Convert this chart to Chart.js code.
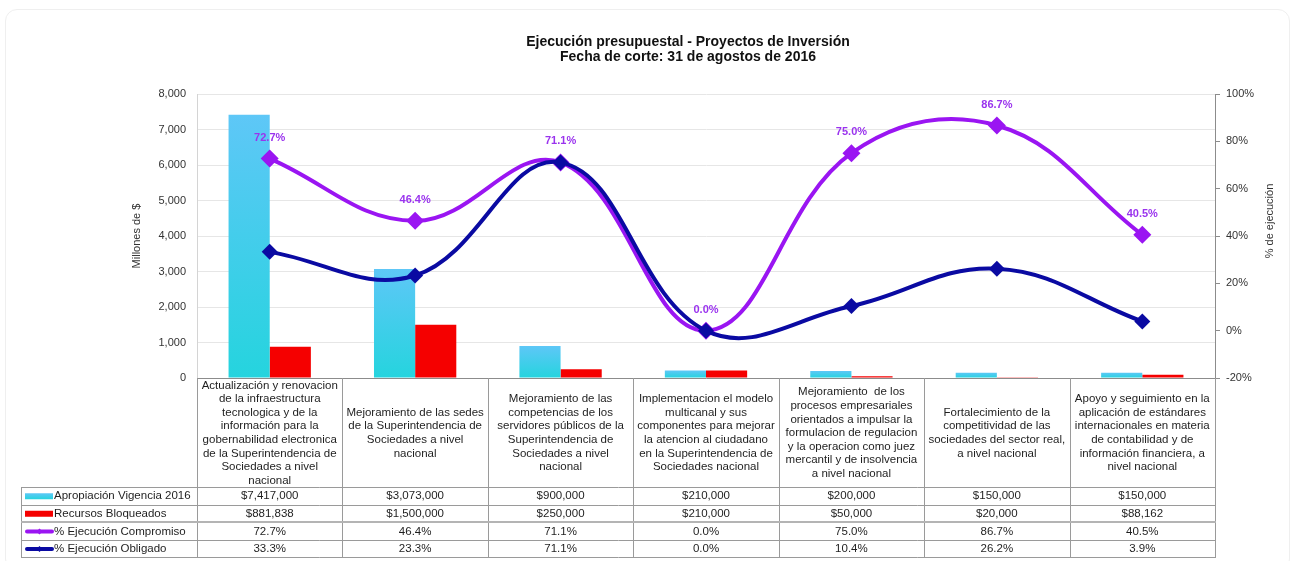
<!DOCTYPE html>
<html><head><meta charset="utf-8">
<script src="https://cdn.jsdelivr.net/npm/chart.js@4/dist/chart.umd.min.js"></script>
<style>
html,body{margin:0;padding:0;background:#fff;}
#wrap{position:relative;width:1295px;height:561px;overflow:hidden;}
#frame{position:absolute;left:5px;top:9px;width:1283px;height:560px;border:1px solid #efefef;border-radius:12px;}
canvas{position:absolute;left:0;top:0;}
</style></head><body>
<div id="wrap"><div id="frame"></div><canvas id="c" width="1295" height="561"></canvas></div>
<script>
const chartTitle = ['Ejecución presupuestal - Proyectos de Inversión', 'Fecha de corte: 31 de agostos de 2016'];
const leftAxisTitle = 'Millones de $';
const rightAxisTitle = '% de ejecución';
const categories = [
  ['Actualización y renovacion', 'de la infraestructura', 'tecnologica y de la', 'información para la', 'gobernabilidad electronica', 'de la Superintendencia de', 'Sociedades a nivel', 'nacional'],
  ['Mejoramiento de las sedes', 'de la Superintendencia de', 'Sociedades a nivel', 'nacional'],
  ['Mejoramiento de las', 'competencias de los', 'servidores públicos de la', 'Superintendencia de', 'Sociedades a nivel', 'nacional'],
  ['Implementacion el modelo', 'multicanal y sus', 'componentes para mejorar', 'la atencion al ciudadano', 'en la Superintendencia de', 'Sociedades nacional'],
  ['Mejoramiento  de los', 'procesos empresariales', 'orientados a impulsar la', 'formulacion de regulacion', 'y la operacion como juez', 'mercantil y de insolvencia', 'a nivel nacional'],
  ['Fortalecimiento de la', 'competitividad de las', 'sociedades del sector real,', 'a nivel nacional'],
  ['Apoyo y seguimiento en la', 'aplicación de estándares', 'internacionales en materia', 'de contabilidad y de', 'información financiera, a', 'nivel nacional']
];
const seriesNames = ['Apropiación Vigencia 2016', 'Recursos Bloqueados', '% Ejecución Compromiso', '% Ejecución Obligado'];
const apropiacion = [7417000, 3073000, 900000, 210000, 200000, 150000, 150000];
const bloqueados = [881838, 1500000, 250000, 210000, 50000, 20000, 88162];
const compromiso = [72.7, 46.4, 71.1, 0.0, 75.0, 86.7, 40.5];
const obligado = [33.3, 23.3, 71.1, 0.0, 10.4, 26.2, 3.9];
const leftTickValues = [0, 1000000, 2000000, 3000000, 4000000, 5000000, 6000000, 7000000, 8000000];
const rightTickValues = [-20, 0, 20, 40, 60, 80, 100];

const COL_CYAN_TOP = '#5ec7f7', COL_CYAN_BOT = '#25d4de';
const COL_RED = '#f50000';
const COL_PURPLE = '#9a15f2';
const COL_NAVY = '#0a0aa2';
const FONT = '"Liberation Sans", Arial, sans-serif';

function cyanGradient(ctx) {
  const chart = ctx.chart;
  if (!chart.chartArea || ctx.type !== 'data') return COL_CYAN_TOP;
  const ys = chart.scales.y;
  const top = ys.getPixelForValue(ctx.raw);
  const base = ys.getPixelForValue(0);
  if (!isFinite(top) || Math.abs(base - top) < 1) return COL_CYAN_BOT;
  const g = chart.ctx.createLinearGradient(0, top, 0, base);
  g.addColorStop(0, COL_CYAN_TOP);
  g.addColorStop(1, COL_CYAN_BOT);
  return g;
}

const fmtMoney = v => '$' + v.toLocaleString('en-US');
const fmtPct = v => v.toFixed(1) + '%';

const tablePlugin = {
  id: 'tablePlugin',
  afterDatasetsDraw(chart) {
    const ctx = chart.ctx;
    const meta = chart.getDatasetMeta(2);
    ctx.save();
    ctx.font = 'bold 11px ' + FONT;
    ctx.fillStyle = '#9a33ee';
    ctx.textAlign = 'center';
    ctx.textBaseline = 'middle';
    meta.data.forEach((pt, i) => {
      ctx.fillText(fmtPct(compromiso[i]), pt.x, pt.y - 21);
    });
    ctx.restore();
  },
  afterDraw(chart) {
    const ctx = chart.ctx;
    const area = chart.chartArea;
    const xs = chart.scales.x;
    const n = categories.length;
    const colW = (area.right - area.left) / n;
    const tableLeft = 21;
    const headerTop = area.bottom;
    const rows = [487, 504.5, 522, 540, 557];
    ctx.save();
    // title
    ctx.fillStyle = '#111';
    ctx.font = 'bold 14px ' + FONT;
    ctx.textAlign = 'center';
    ctx.textBaseline = 'middle';
    ctx.fillText(chartTitle[0], 688, 42);
    ctx.fillText(chartTitle[1], 688, 57);
    // right axis title
    ctx.save();
    ctx.translate(1270, 221);
    ctx.rotate(-Math.PI / 2);
    ctx.font = '11px ' + FONT;
    ctx.fillStyle = '#333';
    ctx.fillText(rightAxisTitle, 0, 0);
    ctx.restore();

    // table grid
    ctx.strokeStyle = '#9a9a9a';
    ctx.lineWidth = 1;
    ctx.beginPath();
    for (let i = 0; i <= n; i++) {
      const x = Math.round(area.left + i * colW) + 0.5;
      ctx.moveTo(x, headerTop);
      ctx.lineTo(x, rows[rows.length - 1]);
    }
    ctx.moveTo(tableLeft + 0.5, rows[0]);
    ctx.lineTo(tableLeft + 0.5, rows[rows.length - 1]);
    rows.forEach((y, k) => {
      if (k === 2) return;
      const yy = Math.round(y) + 0.5;
      ctx.moveTo(tableLeft, yy);
      ctx.lineTo(area.right + 1, yy);
    });
    ctx.stroke();
    ctx.strokeStyle = '#b4b4b4';
    ctx.lineWidth = 2;
    ctx.beginPath();
    ctx.moveTo(tableLeft, Math.round(rows[2]));
    ctx.lineTo(area.right + 1, Math.round(rows[2]));
    ctx.stroke();

    // header text
    ctx.fillStyle = '#1e1e1e';
    ctx.font = '11.5px ' + FONT;
    ctx.textAlign = 'center';
    ctx.textBaseline = 'middle';
    const hc = (headerTop + rows[0]) / 2 + 0.5;
    const lh = 13.6;
    categories.forEach((lines, i) => {
      const cx = xs.getPixelForValue(i);
      lines.forEach((t, j) => {
        ctx.fillText(t, cx, hc + (j - (lines.length - 1) / 2) * lh);
      });
    });
    // value rows
    const rowData = [apropiacion.map(fmtMoney), bloqueados.map(fmtMoney), compromiso.map(fmtPct), obligado.map(fmtPct)];
    rowData.forEach((vals, r) => {
      const cy = (rows[r] + rows[r + 1]) / 2 + 0.5;
      vals.forEach((v, i) => ctx.fillText(v, xs.getPixelForValue(i), cy));
    });
    // legend keys + names
    ctx.textAlign = 'left';
    seriesNames.forEach((name, r) => {
      const cy = (rows[r] + rows[r + 1]) / 2 + 0.5;
      if (r === 0) {
        const g = ctx.createLinearGradient(0, cy - 3, 0, cy + 3);
        g.addColorStop(0, COL_CYAN_TOP); g.addColorStop(1, COL_CYAN_BOT);
        ctx.fillStyle = g;
        ctx.fillRect(25, cy - 3, 28, 6);
      } else if (r === 1) {
        ctx.fillStyle = COL_RED;
        ctx.fillRect(25, cy - 3, 28, 6);
      } else {
        const c = r === 2 ? COL_PURPLE : COL_NAVY;
        ctx.strokeStyle = c;
        ctx.lineWidth = 4;
        ctx.lineCap = 'round';
        ctx.beginPath();
        ctx.moveTo(27, cy); ctx.lineTo(52, cy);
        ctx.stroke();
        ctx.fillStyle = c;
        ctx.beginPath();
        ctx.moveTo(39.5, cy - 3); ctx.lineTo(42.5, cy); ctx.lineTo(39.5, cy + 3); ctx.lineTo(36.5, cy);
        ctx.closePath(); ctx.fill();
      }
      ctx.fillStyle = '#1e1e1e';
      ctx.fillText(name, 54, cy);
    });
    ctx.restore();
  }
};

new Chart(document.getElementById('c'), {
  type: 'bar',
  data: {
    labels: categories,
    datasets: [
      { type: 'bar', label: seriesNames[0], data: apropiacion, yAxisID: 'y', backgroundColor: cyanGradient, borderWidth: 0, order: 3, categoryPercentage: 0.566, barPercentage: 1 },
      { type: 'bar', label: seriesNames[1], data: bloqueados, yAxisID: 'y', backgroundColor: COL_RED, borderWidth: 0, order: 3, categoryPercentage: 0.566, barPercentage: 1 },
      { type: 'line', label: seriesNames[2], data: compromiso, yAxisID: 'y1', borderColor: COL_PURPLE, backgroundColor: COL_PURPLE, borderWidth: 4, tension: 0.4, pointStyle: 'rectRot', pointRadius: 9, pointHoverRadius: 9, pointBorderWidth: 0, pointBackgroundColor: COL_PURPLE, order: 2, fill: false },
      { type: 'line', label: seriesNames[3], data: obligado, yAxisID: 'y1', borderColor: COL_NAVY, backgroundColor: COL_NAVY, borderWidth: 4, tension: 0.4, pointStyle: 'rectRot', pointRadius: 8, pointHoverRadius: 8, pointBorderWidth: 0, pointBackgroundColor: COL_NAVY, order: 1, fill: false }
    ]
  },
  options: {
    responsive: false,
    animation: false,
    devicePixelRatio: 1,
    layout: { padding: { top: 94, bottom: 183, left: 0, right: 0 } },
    plugins: { legend: { display: false }, tooltip: { enabled: false }, title: { display: false } },
    scales: {
      x: {
        ticks: { display: false },
        grid: { display: false, drawTicks: false },
        border: { display: true, color: '#8c8c8c', width: 1 },
        afterFit(s) { s.height = 0; }
      },
      y: {
        position: 'left',
        min: 0, max: 8000000,
        afterBuildTicks(s) { s.ticks = leftTickValues.map(v => ({ value: v })); },
        ticks: { padding: 11, color: '#333', font: { family: FONT, size: 11 }, callback: v => (v / 1000).toLocaleString('en-US') },
        grid: { color: '#e6e6e6', drawTicks: false },
        border: { display: true, color: '#d4d4d4' },
        title: { display: true, text: leftAxisTitle, color: '#333', font: { family: FONT, size: 11 }, padding: { top: 130, bottom: 0 } },
        afterFit(s) { s.width = 197; }
      },
      y1: {
        position: 'right',
        min: -20, max: 100,
        afterBuildTicks(s) { s.ticks = rightTickValues.map(v => ({ value: v })); },
        ticks: { padding: 6, color: '#333', font: { family: FONT, size: 11 }, callback: v => v + '%' },
        grid: { drawOnChartArea: false, drawTicks: true, tickLength: 5, color: '#8c8c8c' },
        border: { display: true, color: '#8c8c8c' },
        afterFit(s) { s.width = 80; }
      }
    }
  },
  plugins: [tablePlugin]
});
</script>
</body></html>
